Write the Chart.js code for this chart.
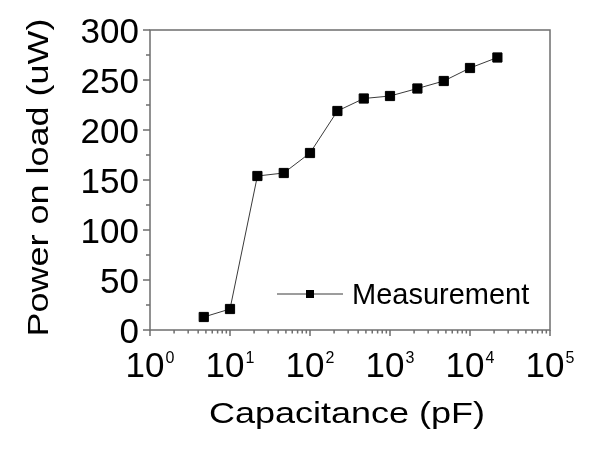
<!DOCTYPE html>
<html>
<head>
<meta charset="utf-8">
<script src="https://cdn.jsdelivr.net/npm/chart.js@4"></script>
<style>
  html, body { margin: 0; padding: 0; background: #fff; }
  #wrap { width: 600px; height: 450px; }
</style>
</head>
<body>
<div id="wrap"><canvas id="chart" width="600" height="450"></canvas></div>
<script>
// values
const capacitance = [4.7, 10, 22, 47, 100, 220, 470, 1000, 2200, 4700, 10000, 22000];
const power = [13, 21, 154, 157, 177, 219, 231.5, 234, 241.5, 249, 262, 272.5];
const xTickValues = [1, 10, 100, 1000, 10000, 100000];
const xTickExponents = ['0', '1', '2', '3', '4', '5'];
const yTickValues = [0, 50, 100, 150, 200, 250, 300];
const seriesName = 'Measurement';

const FONT = '"Liberation Sans", Arial, sans-serif';
const AXIS_COLOR = '#6e6e6e';
const LINE_COLOR = '#3a3a3a';

// box, ticks, labels and titles are drawn by hand so the fonts can match
const axesPlugin = {
  id: 'axesPlugin',
  beforeDatasetsDraw(chart) {
    const { ctx, chartArea: a, scales } = chart;
    const x = scales.x, y = scales.y;
    ctx.save();
    ctx.strokeStyle = AXIS_COLOR;
    ctx.lineWidth = 1.5;
    ctx.strokeRect(a.left, a.top, a.right - a.left, a.bottom - a.top);

    // x ticks: majors and minors below the axis
    ctx.beginPath();
    for (let k = 0; k < xTickValues.length; k++) {
      const px = x.getPixelForValue(xTickValues[k]);
      ctx.moveTo(px, a.bottom);
      ctx.lineTo(px, a.bottom + 6);
      if (k < xTickValues.length - 1) {
        for (let m = 2; m < 10; m++) {
          const pm = x.getPixelForValue(xTickValues[k] * m);
          ctx.moveTo(pm, a.bottom);
          ctx.lineTo(pm, a.bottom + 3.5);
        }
      }
    }
    // y ticks: majors and half-step minors to the left
    for (let i = 0; i < yTickValues.length; i++) {
      const py = y.getPixelForValue(yTickValues[i]);
      ctx.moveTo(a.left, py);
      ctx.lineTo(a.left - 7, py);
      if (i < yTickValues.length - 1) {
        const pm = y.getPixelForValue((yTickValues[i] + yTickValues[i + 1]) / 2);
        ctx.moveTo(a.left, pm);
        ctx.lineTo(a.left - 4, pm);
      }
    }
    ctx.stroke();
    ctx.restore();
  },
  afterDraw(chart) {
    const { ctx, chartArea: a, scales } = chart;
    const x = scales.x, y = scales.y;
    ctx.save();
    ctx.fillStyle = '#000';
    ctx.textBaseline = 'alphabetic';

    // x tick labels as 10 with a raised exponent
    for (let k = 0; k < xTickValues.length; k++) {
      const px = x.getPixelForValue(xTickValues[k]);
      ctx.font = '35px ' + FONT;
      const wBase = ctx.measureText('10').width;
      ctx.font = '16px ' + FONT;
      const wExp = ctx.measureText(xTickExponents[k]).width;
      const left = px - (wBase + wExp + 1) / 2;
      ctx.textAlign = 'left';
      ctx.font = '35px ' + FONT;
      ctx.fillText('10', left, a.bottom + 47);
      ctx.font = '16px ' + FONT;
      ctx.fillText(xTickExponents[k], left + wBase + 1, a.bottom + 33);
    }

    // y tick labels
    ctx.font = '35px ' + FONT;
    ctx.textAlign = 'right';
    for (const v of yTickValues) {
      ctx.fillText(String(v), a.left - 11, y.getPixelForValue(v) + 12.5);
    }

    // axis titles, a little wider than the plain font
    ctx.font = '30px ' + FONT;
    ctx.textAlign = 'center';
    ctx.save();
    ctx.translate((a.left + a.right) / 2 - 3, 423);
    ctx.scale(1.2, 1);
    ctx.fillText('Capacitance (pF)', 0, 0);
    ctx.restore();

    ctx.save();
    ctx.translate(48, 177.5);
    ctx.rotate(-Math.PI / 2);
    ctx.scale(1.2, 1);
    ctx.fillText('Power on load (uW)', 0, 0);
    ctx.restore();

    // legend inside the plot
    const ly = 294;
    ctx.strokeStyle = LINE_COLOR;
    ctx.lineWidth = 1;
    ctx.beginPath();
    ctx.moveTo(277, ly);
    ctx.lineTo(343, ly);
    ctx.stroke();
    ctx.fillStyle = '#000';
    ctx.fillRect(306, ly - 4, 8, 8);
    ctx.font = '29px ' + FONT;
    ctx.textAlign = 'left';
    ctx.fillText(seriesName, 352, 304);
    ctx.restore();
  }
};

const ctx = document.getElementById('chart').getContext('2d');
new Chart(ctx, {
  type: 'scatter',
  data: {
    datasets: [{
      label: seriesName,
      data: capacitance.map((c, i) => ({ x: c, y: power[i] })),
      showLine: true,
      borderColor: LINE_COLOR,
      borderWidth: 1,
      pointStyle: 'rect',
      pointRadius: 6.5,
      pointBorderWidth: 1,
      pointBackgroundColor: '#000',
      pointBorderColor: '#000',
      fill: false
    }]
  },
  options: {
    responsive: false,
    animation: false,
    layout: { padding: { left: 150, right: 50, top: 30, bottom: 120 } },
    plugins: {
      legend: { display: false },
      tooltip: { enabled: false }
    },
    scales: {
      x: { type: 'logarithmic', min: 1, max: 100000, display: false },
      y: { type: 'linear', min: 0, max: 300, display: false }
    }
  },
  plugins: [axesPlugin]
});
</script>
</body>
</html>
